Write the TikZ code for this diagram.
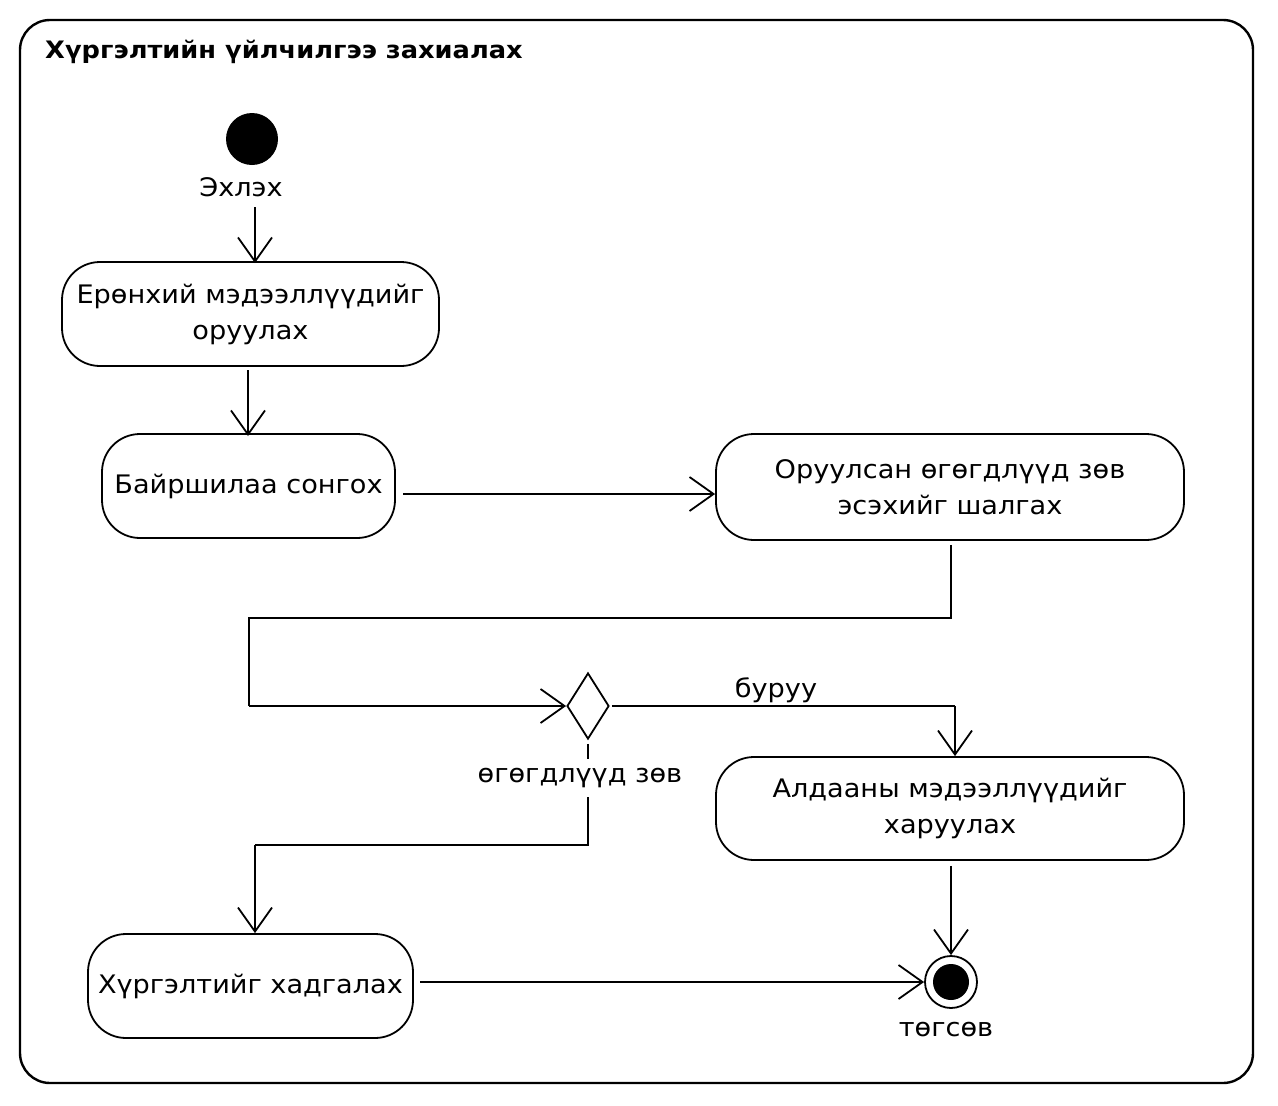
\documentclass[tikz,border=0pt]{standalone}
\usepackage{fontspec}
\setmainfont{DejaVu Sans}
\newfontfamily\bodyfont[FakeStretch=1.065]{DejaVu Sans}
\newfontfamily\titlefont[FakeStretch=1.07]{DejaVu Sans Bold}
\usetikzlibrary{arrows.meta,shapes.geometric}
\tikzset{
  act/.style={draw, line width=1.8pt, rounded corners=38pt, align=center, inner sep=0pt, font=\bodyfont\fontsize{25.5}{36}\selectfont},
  lbl/.style={inner sep=2pt, font=\bodyfont\fontsize{25.5}{30}\selectfont},
  flow/.style={line width=1.8pt, -{Straight Barb[length=24pt,width=34pt,line width=1.8pt]}},
  plain/.style={line width=1.8pt},
}
\begin{document}
\begin{tikzpicture}[x=1pt,y=-1pt]
\useasboundingbox (0,0) rectangle (1278,1106);
\draw[line width=2.4pt, rounded corners=30pt] (20,20) rectangle (1253,1083);
\node[anchor=west, font=\titlefont\fontsize{24}{28}\selectfont, inner sep=0pt] (title) at (45,52) {Хүргэлтийн үйлчилгээ захиалах};
% initial
\node[circle, fill=black, minimum size=52pt, inner sep=0pt] (init) at (252,139) {};
\node[lbl] (start) at (241,187) {Эхлэх};
% actions
\node[act, minimum width=377pt, minimum height=104pt] (b1) at (250.5,314) {Ерөнхий мэдээллүүдийг\\оруулах};
\node[act, minimum width=293pt, minimum height=104pt] (b2) at (248.5,486) {Байршилаа сонгох};
\node[act, minimum width=468pt, minimum height=106pt] (b3) at (950,487) {Оруулсан өгөгдлүүд зөв\\эсэхийг шалгах};
\node[act, minimum width=468pt, minimum height=103pt] (b4) at (950,808.5) {Алдааны мэдээллүүдийг\\харуулах};
\node[act, minimum width=325pt, minimum height=104pt] (b5) at (250.5,986) {Хүргэлтийг хадгалах};
% decision
\node[diamond, draw, line width=1.8pt, minimum width=42pt, minimum height=66pt, inner sep=0pt] (dec) at (588,706) {};
% final
\node[circle, draw, line width=1.8pt, minimum size=52pt, inner sep=0pt] (fin) at (951,982) {};
\node[circle, fill=black, minimum size=36pt, inner sep=0pt] (fincore) at (fin.center) {};
\node[lbl] (end) at (946,1030) {төгсөв};
% coordinates
\coordinate (s0) at (255,207);
\coordinate (t0) at (255,263);
\coordinate (a2) at (403,494);
\coordinate (c1) at (951,618);
\coordinate (c2) at (249,618);
\coordinate (c3) at (249,706);
\coordinate (c4) at (955,706);
\coordinate (c5) at (588,845);
\coordinate (c6) at (255,845);
\coordinate (a5) at (420,982);
% connectors
\draw[flow] (s0) -- (t0);
\draw[flow, shorten <=4pt] (248,366) -- (248,436);
\draw[flow] (a2) -- (a2 -| b3.west);
\draw[plain, shorten <=4pt] (b3.south -| c1) -- (c1) -- (c2) -- (c3);
\draw[flow] (c3) -- (dec.west);
\draw[plain, shorten <=2pt] (dec.east) -- (c4);
\draw[flow] (c4) -- (c4 |- b4.north);
\node[lbl] (wrong) at (776,690) {буруу};
\draw[plain, shorten <=4pt] (dec.south) -- (c5) -- (c6);
\node[lbl, fill=white, inner sep=9pt] (ok) at (580,778) {өгөгдлүүд зөв};
\draw[flow] (c6) -- (c6 |- b5.north);
\draw[flow, shorten <=5pt] (b4.south -| fin.north) -- (fin.north);
\draw[flow] (a5) -- (fin.west);
\end{tikzpicture}
\end{document}
